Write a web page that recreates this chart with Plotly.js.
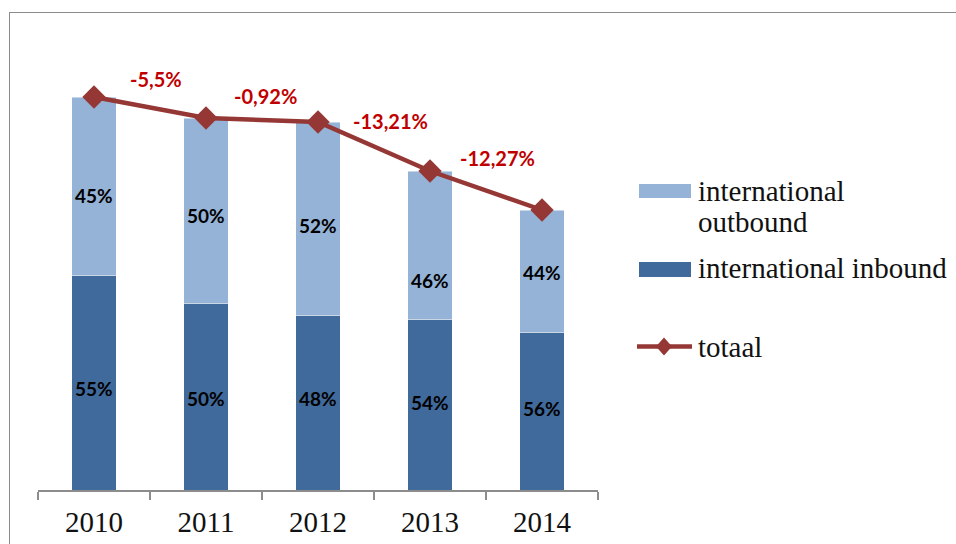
<!DOCTYPE html>
<html><head><meta charset="utf-8">
<script src="https://cdn.plot.ly/plotly-3.0.1.min.js"></script>
<style>
  html, body { margin: 0; padding: 0; background: #fff; overflow: hidden; }
  #chart { position: absolute; left: 0; top: 0; width: 956px; height: 544px; }
  #frame { position: absolute; left: 9px; top: 12px; width: 1000px; height: 600px;
           border: 1.5px solid #8c8c8c; pointer-events: none; }
</style></head>
<body>
<div id="chart"></div>
<div id="frame"></div>
<script>
// ---- data (arbitrary units) ----
const years = ["2010", "2011", "2012", "2013", "2014"];
const inbound = [215, 187, 175, 171, 158];
const outbound = [178, 185, 193, 148, 122];
const inboundPct = ["55%", "50%", "48%", "54%", "56%"];
const outboundPct = ["45%", "50%", "52%", "46%", "44%"];
const changeLabels = ["-5,5%", "-0,92%", "-13,21%", "-12,27%"];

(function () {
  "use strict";
  const totals = inbound.map((v, i) => v + outbound[i]);
  const C_IN = "#416A9C", C_OUT = "#95B3D7", C_LINE = "#953735", C_RED = "#C00000";
  const SERIF = "Liberation Serif, Times New Roman, serif";
  const SANS = "Lato, Open Sans, sans-serif";

  // plot area in page pixels: x 38..598, y 30..490
  const L = 38, R = 598, T = 30, B = 490;
  const px = x => (x - L) / (R - L);      // page px -> paper x
  const py = y => (B - y) / (B - T);      // page px -> paper y

  // small nudges so labels sit where the original put them
  const outShift = [-9, -5, -7, -35, -1];
  const inShift = [-6, -2, 4, 2, 3];
  const chgX = [6, 3, 16, 11], chgY = [29, 24, 26, 33];

  const traces = [
    { type: "bar", x: years, y: inbound, name: "international inbound",
      marker: { color: C_IN, line: { color: "rgba(255,255,255,0.6)", width: 0.8 } }, hoverinfo: "skip" },
    { type: "bar", x: years, y: outbound, name: "international outbound",
      marker: { color: C_OUT, line: { color: "rgba(255,255,255,0.6)", width: 0.8 } }, hoverinfo: "skip" },
    { type: "scatter", x: years, y: totals, name: "totaal", mode: "lines+markers",
      line: { color: C_LINE, width: 4.5 },
      marker: { symbol: "diamond", size: 18, color: C_LINE }, cliponaxis: false }
  ];

  const ann = [];
  const pctFont = { family: SANS, size: 19, color: "#000" };
  years.forEach(function (yr, i) {
    ann.push({ x: i, y: inbound[i] / 2, yshift: inShift[i], text: "<b>" + inboundPct[i] + "</b>",
               showarrow: false, font: pctFont });
    ann.push({ x: i, y: inbound[i] + outbound[i] / 2, yshift: outShift[i], text: "<b>" + outboundPct[i] + "</b>",
               showarrow: false, font: pctFont });
  });
  changeLabels.forEach(function (t, i) {
    ann.push({ x: i + 0.5, y: (totals[i] + totals[i + 1]) / 2, xshift: chgX[i], yshift: chgY[i],
               text: "<b>" + t + "</b>", showarrow: false, font: { family: SANS, size: 20, color: C_RED } });
  });

  // ---- hand-made legend ----
  const legFont = { family: SERIF, size: 29, color: "#111" };
  [["international", 191], ["outbound", 222], ["international inbound", 268], ["totaal", 347]]
    .forEach(function (it) {
      ann.push({ xref: "paper", yref: "paper", x: px(696), y: py(it[1]), xanchor: "left", yanchor: "middle",
                 text: it[0], showarrow: false, font: legFont });
    });
  const shapes = [
    { type: "rect", xref: "paper", yref: "paper", x0: px(639), x1: px(691), y0: py(198), y1: py(184),
      fillcolor: C_OUT, line: { width: 0 } },
    { type: "rect", xref: "paper", yref: "paper", x0: px(639), x1: px(691), y0: py(277), y1: py(262),
      fillcolor: C_IN, line: { width: 0 } },
    { type: "line", xref: "paper", yref: "paper", x0: px(637), x1: px(692), y0: py(346.5), y1: py(346.5),
      line: { color: C_LINE, width: 4.5 } },
    { type: "path", xref: "paper", yref: "paper", fillcolor: C_LINE, line: { width: 0 },
      path: "M" + px(664) + "," + py(337.5) + " L" + px(672) + "," + py(346.5) +
            " L" + px(664) + "," + py(355.5) + " L" + px(656) + "," + py(346.5) + " Z" }
  ];

  Plotly.newPlot("chart", traces, {
    width: 956, height: 544,
    margin: { l: L, r: 956 - R, t: T, b: 544 - B, pad: 0 },
    barmode: "stack", bargap: 0.6, showlegend: false,
    paper_bgcolor: "#fff", plot_bgcolor: "#fff",
    xaxis: { type: "category", range: [-0.5, 4.5], showgrid: false, zeroline: false,
             showline: true, linecolor: "#8c8c8c", linewidth: 1.5,
             ticks: "outside", tickson: "boundaries", ticklen: 8, tickcolor: "#8c8c8c", tickwidth: 1.5,
             ticklabelstandoff: 6,
             tickfont: { family: SERIF, size: 29, color: "#111" } },
    yaxis: { visible: false, range: [0, 460], fixedrange: true },
    annotations: ann, shapes: shapes,
    font: { family: SANS }
  }, { displayModeBar: false, staticPlot: true });
})();
</script>
</body></html>
